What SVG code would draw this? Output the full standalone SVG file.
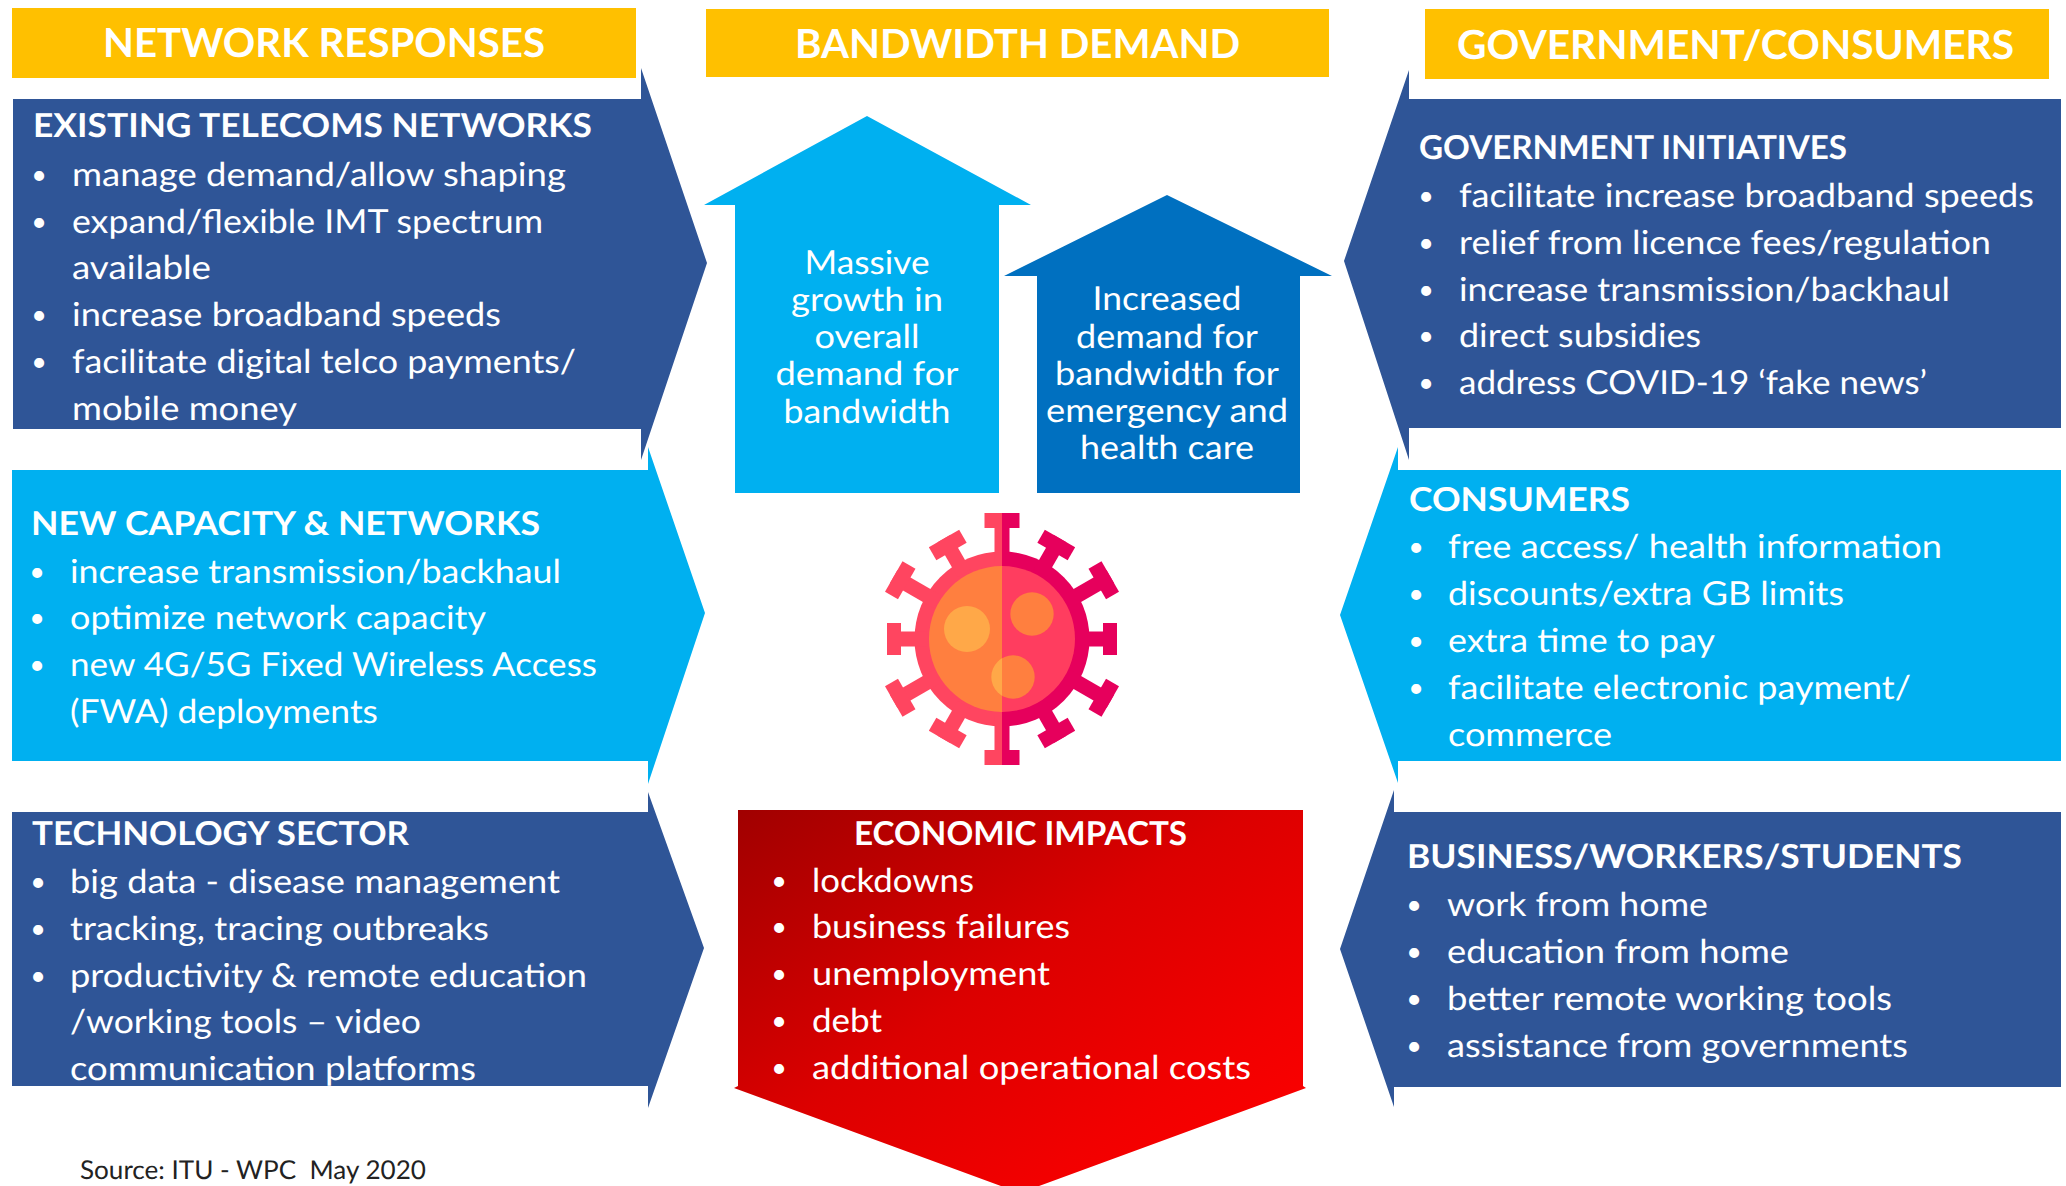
<svg xmlns="http://www.w3.org/2000/svg" width="2066" height="1186" viewBox="0 0 2066 1186">
<style>
text{font-family:Lato,"Liberation Sans",sans-serif;fill:#fff;font-size:33px;text-rendering:geometricPrecision}
.h{font-weight:700}
.t{font-weight:700;font-size:40px}
.m{text-anchor:middle}
.b{text-anchor:middle;font-size:27px;transform:translate(-1px,-2px)}
.navy{fill:#2f5597}.cyan{fill:#00b0f0}.gold{fill:#ffc000}.blue{fill:#0070c0}
</style>
<defs>
<linearGradient id="red" x1="0" y1="0" x2="1" y2="1"><stop offset="0" stop-color="#a00000"/><stop offset=".45" stop-color="#dc0000"/><stop offset=".75" stop-color="#f20000"/><stop offset="1" stop-color="#ff0000"/></linearGradient>
<clipPath id="lh"><rect x="860" y="490" width="142" height="300"/></clipPath>
<clipPath id="rh"><rect x="1002" y="490" width="140" height="300"/></clipPath>
<g id="body" transform="translate(1002 639)">
<circle r="87.5"/>
<g id="s1"><rect x="-7.5" y="-126" width="15" height="50"/><rect x="-17.5" y="-126" width="35" height="15"/></g>
<g transform="rotate(30)"><rect x="-7.5" y="-116" width="15" height="40"/><rect x="-17.5" y="-116" width="35" height="15"/></g>
<g transform="rotate(60)"><rect x="-7.5" y="-125" width="15" height="50"/><rect x="-17.5" y="-125" width="35" height="15"/></g>
<g transform="rotate(90)"><rect x="-7.5" y="-115" width="15" height="40"/><rect x="-16" y="-115" width="32" height="14"/></g>
<g transform="rotate(120)"><rect x="-7.5" y="-125" width="15" height="50"/><rect x="-17.5" y="-125" width="35" height="15"/></g>
<g transform="rotate(150)"><rect x="-7.5" y="-116" width="15" height="40"/><rect x="-17.5" y="-116" width="35" height="15"/></g>
<g transform="rotate(180)"><rect x="-7.5" y="-126" width="15" height="50"/><rect x="-17.5" y="-126" width="35" height="15"/></g>
<g transform="rotate(210)"><rect x="-7.5" y="-116" width="15" height="40"/><rect x="-17.5" y="-116" width="35" height="15"/></g>
<g transform="rotate(240)"><rect x="-7.5" y="-125" width="15" height="50"/><rect x="-17.5" y="-125" width="35" height="15"/></g>
<g transform="rotate(270)"><rect x="-7.5" y="-115" width="15" height="40"/><rect x="-16" y="-115" width="32" height="14"/></g>
<g transform="rotate(300)"><rect x="-7.5" y="-125" width="15" height="50"/><rect x="-17.5" y="-125" width="35" height="15"/></g>
<g transform="rotate(330)"><rect x="-7.5" y="-116" width="15" height="40"/><rect x="-17.5" y="-116" width="35" height="15"/></g>
</g>
</defs>
<rect width="2066" height="1186" fill="#fff"/>

<g id="connectors"/>

<g id="header-network"><rect class="gold" x="12" y="8" width="624" height="70"/><text class="t" x="103" y="57" textLength="442" lengthAdjust="spacingAndGlyphs">NETWORK RESPONSES</text></g>
<g id="header-bandwidth"><rect class="gold" x="706" y="9" width="623" height="68"/><text class="t" x="795" y="58" textLength="445" lengthAdjust="spacingAndGlyphs">BANDWIDTH DEMAND</text></g>
<g id="header-government"><rect class="gold" x="1425" y="9" width="624" height="70"/><text class="t" x="1457" y="59" textLength="557" lengthAdjust="spacingAndGlyphs">GOVERNMENT/CONSUMERS</text></g>

<g id="existing-telecoms">
<polygon class="navy" points="13,99 641,99 641,68 707,263 641,460 641,429 13,429"/>
<text class="h" x="33" y="137" textLength="559" lengthAdjust="spacingAndGlyphs">EXISTING TELECOMS NETWORKS</text>
<text class="b" x="40" y="186">•</text><text x="72" y="186" textLength="494" lengthAdjust="spacingAndGlyphs">manage demand/allow shaping</text>
<text class="b" x="40" y="233">•</text><text x="72" y="233" textLength="471" lengthAdjust="spacingAndGlyphs">expand/flexible IMT spectrum</text>
<text x="72" y="279" textLength="139" lengthAdjust="spacingAndGlyphs">available</text>
<text class="b" x="40" y="326">•</text><text x="72" y="326" textLength="429" lengthAdjust="spacingAndGlyphs">increase broadband speeds</text>
<text class="b" x="40" y="373">•</text><text x="72" y="373" textLength="504" lengthAdjust="spacingAndGlyphs">facilitate digital telco payments/</text>
<text x="72" y="420" textLength="225" lengthAdjust="spacingAndGlyphs">mobile money</text>
</g>

<g id="new-capacity">
<polygon class="cyan" points="12,470 648,470 648,447 705,613 648,784 648,761 12,761"/>
<text class="h" x="31" y="535" textLength="509" lengthAdjust="spacingAndGlyphs">NEW CAPACITY &amp; NETWORKS</text>
<text class="b" x="38" y="583">•</text><text x="70" y="583" textLength="491" lengthAdjust="spacingAndGlyphs">increase transmission/backhaul</text>
<text class="b" x="38" y="629">•</text><text x="70" y="629" textLength="416" lengthAdjust="spacingAndGlyphs">optimize network capacity</text>
<text class="b" x="38" y="676">•</text><text x="70" y="676" textLength="527" lengthAdjust="spacingAndGlyphs">new 4G/5G Fixed Wireless Access</text>
<text x="70" y="723" textLength="308" lengthAdjust="spacingAndGlyphs">(FWA) deployments</text>
</g>

<g id="technology-sector">
<polygon class="navy" points="12,812 648,812 648,792 704,948 648,1108 648,1086 12,1086"/>
<text class="h" x="32" y="845" textLength="377" lengthAdjust="spacingAndGlyphs">TECHNOLOGY SECTOR</text>
<text class="b" x="39" y="893">•</text><text x="70" y="893" textLength="490" lengthAdjust="spacingAndGlyphs">big data - disease management</text>
<text class="b" x="39" y="940">•</text><text x="70" y="940" textLength="419" lengthAdjust="spacingAndGlyphs">tracking, tracing outbreaks</text>
<text class="b" x="39" y="987">•</text><text x="70" y="987" textLength="517" lengthAdjust="spacingAndGlyphs">productivity &amp; remote education</text>
<text x="70" y="1033" textLength="351" lengthAdjust="spacingAndGlyphs">/working tools – video</text>
<text x="70" y="1080" textLength="406" lengthAdjust="spacingAndGlyphs">communication platforms</text>
</g>

<g id="massive-growth">
<polygon class="cyan" points="867,116 1031,205 999,205 999,493 735,493 735,205 704,205"/>
<text class="m" x="867" y="274" textLength="125" lengthAdjust="spacingAndGlyphs">Massive</text>
<text class="m" x="867" y="311" textLength="152" lengthAdjust="spacingAndGlyphs">growth in</text>
<text class="m" x="867" y="348" textLength="105" lengthAdjust="spacingAndGlyphs">overall</text>
<text class="m" x="867" y="385" textLength="183" lengthAdjust="spacingAndGlyphs">demand for</text>
<text class="m" x="867" y="423" textLength="167" lengthAdjust="spacingAndGlyphs">bandwidth</text>
</g>

<g id="increased-demand">
<polygon class="blue" points="1167,195 1332,276 1300,276 1300,493 1037,493 1037,276 1004,276"/>
<text class="m" x="1167" y="310" textLength="149" lengthAdjust="spacingAndGlyphs">Increased</text>
<text class="m" x="1167" y="348" textLength="182" lengthAdjust="spacingAndGlyphs">demand for</text>
<text class="m" x="1167" y="385" textLength="224" lengthAdjust="spacingAndGlyphs">bandwidth for</text>
<text class="m" x="1167" y="422" textLength="242" lengthAdjust="spacingAndGlyphs">emergency and</text>
<text class="m" x="1167" y="459" textLength="174" lengthAdjust="spacingAndGlyphs">health care</text>
</g>

<g id="virus">
<use href="#body" fill="#ff4560" clip-path="url(#lh)"/>
<use href="#body" fill="#e6005c" clip-path="url(#rh)"/>
<circle cx="1002" cy="639" r="73" fill="#ff7f3f" clip-path="url(#lh)"/>
<circle cx="1002" cy="639" r="73" fill="#ff3d5f" clip-path="url(#rh)"/>
<circle cx="967" cy="629" r="23" fill="#ffa848"/>
<circle cx="1032" cy="614" r="21.7" fill="#ff7f3f"/>
<circle cx="1013" cy="677" r="21.7" fill="#ffa848" clip-path="url(#lh)"/>
<circle cx="1013" cy="677" r="21.7" fill="#ff7f3f" clip-path="url(#rh)"/>
</g>

<g id="economic-impacts">
<polygon fill="url(#red)" points="738,810 1303,810 1303,1086 1306,1088 1020,1193 734,1088 738,1086"/>
<text class="h" x="854" y="845" textLength="333" lengthAdjust="spacingAndGlyphs">ECONOMIC IMPACTS</text>
<text class="b" x="780" y="892">•</text><text x="812" y="892" textLength="162" lengthAdjust="spacingAndGlyphs">lockdowns</text>
<text class="b" x="780" y="938">•</text><text x="812" y="938" textLength="258" lengthAdjust="spacingAndGlyphs">business failures</text>
<text class="b" x="780" y="985">•</text><text x="812" y="985" textLength="238" lengthAdjust="spacingAndGlyphs">unemployment</text>
<text class="b" x="780" y="1032">•</text><text x="812" y="1032" textLength="70" lengthAdjust="spacingAndGlyphs">debt</text>
<text class="b" x="780" y="1079">•</text><text x="812" y="1079" textLength="439" lengthAdjust="spacingAndGlyphs">additional operational costs</text>
</g>

<g id="government-initiatives">
<polygon class="navy" points="2061,99 1409,99 1409,70 1344,261 1409,460 1409,428 2061,428"/>
<text class="h" x="1419" y="159" textLength="428" lengthAdjust="spacingAndGlyphs">GOVERNMENT INITIATIVES</text>
<text class="b" x="1427" y="207">•</text><text x="1459" y="207" textLength="575" lengthAdjust="spacingAndGlyphs">facilitate increase broadband speeds</text>
<text class="b" x="1427" y="254">•</text><text x="1459" y="254" textLength="532" lengthAdjust="spacingAndGlyphs">relief from licence fees/regulation</text>
<text class="b" x="1427" y="301">•</text><text x="1459" y="301" textLength="491" lengthAdjust="spacingAndGlyphs">increase transmission/backhaul</text>
<text class="b" x="1427" y="347">•</text><text x="1459" y="347" textLength="242" lengthAdjust="spacingAndGlyphs">direct subsidies</text>
<text class="b" x="1427" y="394">•</text><text x="1459" y="394" textLength="468" lengthAdjust="spacingAndGlyphs">address COVID-19 ‘fake news’</text>
</g>

<g id="consumers">
<polygon class="cyan" points="2061,470 1398,470 1398,447 1340,615 1398,783 1398,761 2061,761"/>
<text class="h" x="1409" y="511" textLength="221" lengthAdjust="spacingAndGlyphs">CONSUMERS</text>
<text class="b" x="1417" y="558">•</text><text x="1448" y="558" textLength="494" lengthAdjust="spacingAndGlyphs">free access/ health information</text>
<text class="b" x="1417" y="605">•</text><text x="1448" y="605" textLength="396" lengthAdjust="spacingAndGlyphs">discounts/extra GB limits</text>
<text class="b" x="1417" y="652">•</text><text x="1448" y="652" textLength="267" lengthAdjust="spacingAndGlyphs">extra time to pay</text>
<text class="b" x="1417" y="699">•</text><text x="1448" y="699" textLength="463" lengthAdjust="spacingAndGlyphs">facilitate electronic payment/</text>
<text x="1448" y="746" textLength="164" lengthAdjust="spacingAndGlyphs">commerce</text>
</g>

<g id="business-workers-students">
<polygon class="navy" points="2061,812 1394,812 1394,790 1340,949 1394,1107 1394,1087 2061,1087"/>
<text class="h" x="1407" y="868" textLength="555" lengthAdjust="spacingAndGlyphs">BUSINESS/WORKERS/STUDENTS</text>
<text class="b" x="1415" y="916">•</text><text x="1447" y="916" textLength="261" lengthAdjust="spacingAndGlyphs">work from home</text>
<text class="b" x="1415" y="963">•</text><text x="1447" y="963" textLength="342" lengthAdjust="spacingAndGlyphs">education from home</text>
<text class="b" x="1415" y="1010">•</text><text x="1447" y="1010" textLength="445" lengthAdjust="spacingAndGlyphs">better remote working tools</text>
<text class="b" x="1415" y="1057">•</text><text x="1447" y="1057" textLength="461" lengthAdjust="spacingAndGlyphs">assistance from governments</text>
</g>

<g id="source"><text x="80" y="1179" style="fill:#222;font-size:26px" textLength="346" lengthAdjust="spacingAndGlyphs" xml:space="preserve">Source: ITU - WPC  May 2020</text></g>
</svg>
